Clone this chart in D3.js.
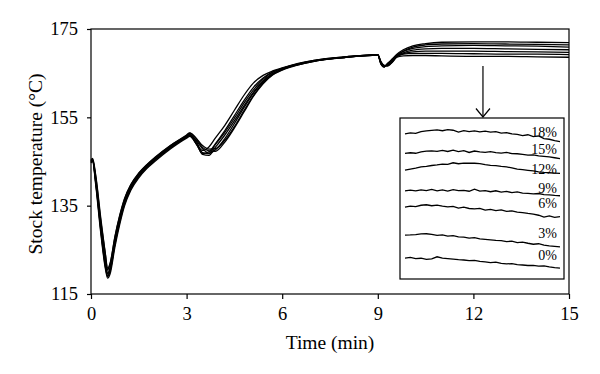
<!DOCTYPE html>
<html>
<head>
<meta charset="utf-8">
<script src="https://cdn.jsdelivr.net/npm/d3@7"></script>
<style>
  body { margin: 0; background: #fff; }
  svg { display: block; font-family: "Liberation Serif", "Times New Roman", serif; }
</style>
</head>
<body>
<svg id="chart" width="600" height="374"></svg>
<script>
// ---- Data ----
const times = [0, 0.05, 0.15, 0.3, 0.45, 0.52, 0.6, 0.75, 0.9, 1.05, 1.25, 1.5, 1.75, 2.0, 2.5, 3.0, 3.1, 3.3, 3.5, 3.7, 3.9, 4.2, 4.5, 4.8, 5.1, 5.4, 5.7, 6.0, 6.5, 7.0, 8.0, 9.0, 9.1, 9.2, 9.3, 9.45, 9.6, 9.8, 10.1, 10.5, 11, 12, 13, 14, 15];

const temp0  = [145.2,145.4,140.8,131,122.5,119.6,121,127,132,136,139.3,142,144,145.6,148.4,150.7,151.1,149.8,147.9,146.9,147.6,150.2,153.6,157.2,160.5,163.1,164.9,165.9,167.0,167.8,168.6,169.1,167.3,166.5,166.9,167.8,168.6,168.9,169.0,169.0,168.9,168.8,168.8,168.7,168.6];
const temp3  = [144.8,145.2,140.2,130.2,121.6,119.0,120.2,126.2,131.2,135.3,138.8,141.6,143.6,145.2,148.1,150.5,150.9,149.2,146.6,146.4,148.2,151.0,154.2,157.6,160.7,163.2,164.9,165.9,167.0,167.8,168.6,169.1,167.1,166.4,167.2,168.0,168.9,169.3,169.5,169.5,169.5,169.4,169.3,169.3,169.2];
const temp6  = [145.1,145.5,141.5,132.0,124.0,120.4,121.8,127.8,132.6,136.4,139.7,142.3,144.2,145.8,148.6,150.9,151.4,150.2,148.2,147.4,147.3,149.4,152.6,156.2,159.8,162.6,164.6,165.7,166.9,167.7,168.6,169.2,167.6,166.7,166.8,167.4,168.7,169.4,169.8,170.0,170.0,170.0,169.9,169.8,169.7];
const temp9  = [144.9,145.1,140.0,129.8,121.2,119.0,120.4,126.4,131.5,135.6,139.0,141.8,143.8,145.4,148.2,150.6,151.0,149.0,147.5,148.3,150.3,153.2,156.6,160.0,162.8,164.5,165.5,166.2,167.2,167.9,168.7,169.2,167.4,166.6,166.7,167.6,168.9,169.6,170.2,170.5,170.6,170.6,170.5,170.4,170.3];
const temp12 = [145.0,145.3,140.6,130.8,122.4,119.5,120.9,127.0,131.9,135.9,139.3,142.0,144.0,145.5,148.3,150.7,151.1,149.6,147.0,146.8,148.8,151.6,154.8,158.2,161.2,163.6,165.2,166.1,167.1,167.9,168.7,169.2,167.2,166.5,167.0,168.1,169.1,169.9,170.6,171.0,171.2,171.3,171.2,171.1,170.9];
const temp15 = [145.4,145.7,141.8,132.6,124.2,120.8,122.0,128.0,132.8,136.6,139.8,142.4,144.3,145.9,148.7,151.0,151.5,150.3,148.6,147.8,147.9,149.8,152.9,156.5,160.0,162.8,164.7,165.8,166.9,167.7,168.6,169.1,167.5,166.8,166.6,167.5,169.0,170.0,170.9,171.4,171.6,171.7,171.6,171.5,171.4];
const temp18 = [144.7,145.0,139.6,129.2,120.8,118.6,119.6,125.6,130.7,134.9,138.5,141.3,143.4,145.0,147.9,150.3,150.7,149.0,146.8,147.2,149.0,152.0,155.4,158.8,161.8,163.9,165.3,166.1,167.1,167.8,168.6,169.1,167.0,166.4,167.1,168.2,169.3,170.3,171.2,171.7,172.0,172.1,172.1,172.0,171.9];

const seriesLabels = ["0%", "3%", "6%", "9%", "12%", "15%", "18%"];

// Inset (zoomed detail of the plateau, relative units 0-100 over the inset box height)
const inset0  = [13.0,13.4,12.6,12.9,12.2,12.5,13.8,12.9,12.6,12.3,12.0,11.8,11.4,11.6,10.9,10.7,10.2,10.5,9.7,9.4,9.6,8.9,8.7,8.4,8.5,8.0,8.2,7.5,7.1,6.8];
const inset3  = [27.3,27.4,27.6,28.0,28.1,27.7,27.1,27.4,26.6,26.9,26.2,26.0,25.4,25.7,24.9,24.6,24.3,24.0,23.8,23.2,23.5,22.6,22.9,22.2,21.6,21.9,21.0,20.6,20.3,19.9];
const inset6  = [44.6,45.3,45.0,45.8,46.1,45.5,45.9,45.2,44.8,45.1,44.0,44.6,43.8,43.5,43.9,42.8,43.3,42.5,42.9,42.0,42.3,41.5,41.2,40.7,40.3,39.6,38.5,39.2,38.3,38.7];
const inset9  = [54.7,55.2,54.8,55.4,54.9,55.6,54.8,55.3,54.6,55.5,54.9,55.0,54.5,55.8,54.6,54.9,54.2,54.8,54.0,54.4,53.6,54.1,53.4,53.2,52.9,53.1,52.4,52.2,51.9,51.7];
const inset12 = [67.6,68.3,68.9,69.6,70.0,70.5,70.9,71.4,71.2,72.2,71.6,72.0,71.9,71.9,71.7,71.0,70.6,70.4,69.9,69.6,69.0,68.2,67.9,67.5,67.1,66.6,66.2,66.0,65.8,65.6];
const inset15 = [78.0,78.4,78.1,79.0,79.4,79.6,79.3,79.9,79.2,80.0,79.1,79.7,78.6,79.5,79.0,78.7,79.1,78.5,78.2,78.6,77.9,77.8,77.4,77.0,77.1,76.5,76.2,75.8,75.3,74.8];
const inset18 = [90.2,90.8,90.4,91.5,92.0,92.3,92.6,92.1,92.8,92.4,91.3,92.2,91.6,92.0,91.4,91.8,91.2,91.5,90.6,90.9,90.1,89.8,89.0,89.6,88.4,88.9,87.2,86.8,85.9,85.3];
const insetLabelLevels = [11.5, 25.5, 44.0, 53.5, 65.5, 77.5, 88.5];

const xTicks = [0, 3, 6, 9, 12, 15];
const yTicks = [115, 135, 155, 175];

// ---- Layout ----
const svg = d3.select("#chart");
const m = { left: 91, right: 569, top: 29, bottom: 294 };
const x = d3.scaleLinear().domain([0, 15]).range([m.left, m.right]);
const y = d3.scaleLinear().domain([115, 175]).range([m.bottom, m.top]);

const mainSeries = [temp0, temp3, temp6, temp9, temp12, temp15, temp18];
const line = d3.line()
  .x((d, i) => x(times[i]))
  .y(d => y(d))
  .curve(d3.curveMonotoneX);

svg.append("g").selectAll("path")
  .data(mainSeries)
  .join("path")
  .attr("d", line)
  .attr("fill", "none")
  .attr("stroke", "#000")
  .attr("stroke-width", 1.3);

// Frame
svg.append("rect")
  .attr("x", m.left).attr("y", m.top)
  .attr("width", m.right - m.left).attr("height", m.bottom - m.top)
  .attr("fill", "none").attr("stroke", "#000").attr("stroke-width", 1.2);

// Axes
const yAxis = d3.axisLeft(y).tickValues(yTicks).tickSize(4).tickPadding(9).tickFormat(d3.format("d"));
const gy = svg.append("g").attr("transform", `translate(${m.left},0)`).call(yAxis);
const xAxis = d3.axisBottom(x).tickValues(xTicks).tickSize(5).tickPadding(8).tickFormat(d3.format("d"));
const gx = svg.append("g").attr("transform", `translate(0,${m.bottom})`).call(xAxis);
[gx, gy].forEach(g => {
  g.select(".domain").remove();
  g.selectAll(".tick line").attr("stroke", "#000").attr("stroke-width", 1.2);
  g.selectAll(".tick text").attr("fill", "#000")
    .style("font-family", '"Liberation Serif", serif').style("font-size", "18.5px");
});

// Axis titles
svg.append("text")
  .attr("x", (m.left + m.right) / 2).attr("y", 349)
  .attr("text-anchor", "middle")
  .style("font-size", "19.5px")
  .text("Time (min)");
svg.append("text")
  .attr("transform", "translate(42,164) rotate(-90)")
  .attr("text-anchor", "middle")
  .style("font-size", "19.5px")
  .text("Stock temperature (°C)");

// Arrow from plateau to inset
const arrowX = x(12.3);
svg.append("line")
  .attr("x1", arrowX).attr("x2", arrowX)
  .attr("y1", 66).attr("y2", 117)
  .attr("stroke", "#000").attr("stroke-width", 1.2);
svg.append("path")
  .attr("d", `M${arrowX - 7},108.5 L${arrowX},117 L${arrowX + 7},108.5`)
  .attr("fill", "none").attr("stroke", "#000").attr("stroke-width", 1.2);

// Inset
const inset = { left: 400, right: 564, top: 118, bottom: 279 };
svg.append("rect")
  .attr("x", inset.left).attr("y", inset.top)
  .attr("width", inset.right - inset.left).attr("height", inset.bottom - inset.top)
  .attr("fill", "#fff").attr("stroke", "#000").attr("stroke-width", 1.2);

const insetSeries = [inset0, inset3, inset6, inset9, inset12, inset15, inset18];
const ix = d3.scaleLinear().domain([0, 29]).range([405, 560]);
const iy = d3.scaleLinear().domain([0, 100]).range([inset.bottom, inset.top]);
const insetLine = d3.line().x((d, i) => ix(i)).y(d => iy(d));

svg.append("g").selectAll("path")
  .data(insetSeries)
  .join("path")
  .attr("d", insetLine)
  .attr("fill", "none")
  .attr("stroke", "#000")
  .attr("stroke-width", 1.3);

svg.append("g").selectAll("text")
  .data(seriesLabels)
  .join("text")
  .attr("x", 557)
  .attr("y", (d, i) => iy(insetLabelLevels[i]))
  .attr("text-anchor", "end")
  .style("font-size", "14px")
  .text(d => d);
</script>
</body>
</html>
